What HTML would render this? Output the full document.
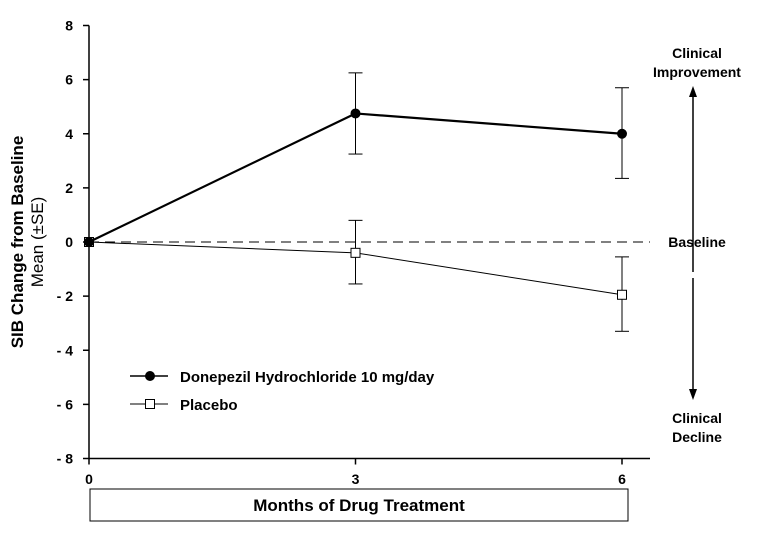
<!DOCTYPE html>
<html><head><meta charset="utf-8"><style>
html,body{margin:0;padding:0;background:#fff;}
svg{display:block;font-family:"Liberation Sans",Arial,sans-serif;}
</style></head><body>
<svg id="chart" width="762" height="534" viewBox="0 0 762 534" xmlns="http://www.w3.org/2000/svg">
<g id="axes"></g>
<g id="marks"></g>
<text transform="translate(23,242) rotate(-90)" text-anchor="middle" font-size="17" font-weight="bold">SIB Change from Baseline</text>
<text transform="translate(43,242) rotate(-90)" text-anchor="middle" font-size="17">Mean (±SE)</text>
<rect x="90" y="489" width="538" height="32" fill="#fff" stroke="#000" stroke-width="1"/>
<text x="359" y="511" text-anchor="middle" font-size="17" font-weight="bold">Months of Drug Treatment</text>
<g font-size="14" font-weight="bold" text-anchor="middle">
<text x="697" y="58">Clinical</text><text x="697" y="77">Improvement</text>
<text x="697" y="247">Baseline</text>
<text x="697" y="423">Clinical</text><text x="697" y="442">Decline</text>
<line x1="693" y1="272" x2="693" y2="96" stroke="#000" stroke-width="1.5"/>
<polygon points="693,86 689,97 697,97"/>
<line x1="693" y1="278" x2="693" y2="390" stroke="#000" stroke-width="1.5"/>
<polygon points="693,400 689,389 697,389"/>
</g>
<g font-size="15" font-weight="bold">
<g>
<line x1="130" y1="376" x2="168" y2="376" stroke="#000" stroke-width="1.5"/>
<circle cx="150" cy="376" r="5" fill="#000"/>
<text x="180" y="382">Donepezil Hydrochloride 10 mg/day</text></g>
<g>
<line x1="130" y1="404" x2="168" y2="404" stroke="#000" stroke-width="1"/>
<rect x="145.5" y="399.5" width="9" height="9" fill="#fff" stroke="#000"/>
<text x="180" y="410">Placebo</text></g>
</g>
</svg>
<script>
const months = [0, 3, 6];
const donepezil = [0, 4.75, 4.0];
const donepezilHi = [0, 6.25, 5.7];
const donepezilLo = [0, 3.25, 2.35];
const placebo = [0, -0.4, -1.95];
const placeboHi = [0, 0.8, -0.55];
const placeboLo = [0, -1.55, -3.3];
const yTicks = [8, 6, 4, 2, 0, -2, -4, -6, -8];
const yTickLabels = ["8", "6", "4", "2", "0", "- 2", "- 4", "- 6", "- 8"];
const xTicks = [0, 3, 6];

const NS = "http://www.w3.org/2000/svg";
const x = v => 89 + v * (622 - 89) / 6;
const y = v => 242 - v * (459 - 26) / 16;
function mk(tag, attrs, parent) {
  const e = document.createElementNS(NS, tag);
  for (const k in attrs) e.setAttribute(k, attrs[k]);
  parent.appendChild(e);
  return e;
}
const axes = document.getElementById('axes');
const marks = document.getElementById('marks');
let e;
e = mk('line', {x1: 89, y1: y(8), x2: 89, y2: y(-8), stroke: '#000', 'stroke-width': 1.5}, axes);


e = mk('line', {x1: 89, y1: y(-8), x2: 650, y2: y(-8), stroke: '#000', 'stroke-width': 1.5}, axes);


yTicks.forEach((t, i) => {
  e = mk('line', {x1: 83, y1: y(t), x2: 89, y2: y(t), stroke: '#000', 'stroke-width': 1.5}, axes);
  
  
  e = mk('text', {x: 73, y: y(t) + 5, 'text-anchor': 'end', 'font-size': 14, 'font-weight': 'bold'}, axes);
  e.textContent = yTickLabels[i];
  
  
});
xTicks.forEach(t => {
  e = mk('line', {x1: x(t), y1: y(-8), x2: x(t), y2: y(-8) + 6, stroke: '#000', 'stroke-width': 1.5}, axes);
  
  
  e = mk('text', {x: x(t), y: 484, 'text-anchor': 'middle', 'font-size': 14, 'font-weight': 'bold'}, axes);
  e.textContent = String(t);
  
  
});
e = mk('line', {x1: 89, y1: y(0), x2: 650, y2: y(0), stroke: '#000', 'stroke-width': 1, 'stroke-dasharray': '10,6'}, axes);



function errorBars(hi, lo, name) {
  months.forEach((m, i) => {
    if (hi[i] === lo[i]) return;
    const g = mk('g', {stroke: '#000', 'stroke-width': 1}, marks);
    
    
    mk('line', {x1: x(m), y1: y(hi[i]), x2: x(m), y2: y(lo[i])}, g);
    mk('line', {x1: x(m) - 7, y1: y(hi[i]), x2: x(m) + 7, y2: y(hi[i])}, g);
    mk('line', {x1: x(m) - 7, y1: y(lo[i]), x2: x(m) + 7, y2: y(lo[i])}, g);
  });
}
errorBars(placeboHi, placeboLo, 'placebo-error-bar');
errorBars(donepezilHi, donepezilLo, 'donepezil-error-bar');

e = mk('polyline', {points: months.map((m, i) => x(m) + ',' + y(placebo[i])).join(' '), fill: 'none', stroke: '#000', 'stroke-width': 1}, marks);


e = mk('polyline', {points: months.map((m, i) => x(m) + ',' + y(donepezil[i])).join(' '), fill: 'none', stroke: '#000', 'stroke-width': 2.2}, marks);


months.forEach((m, i) => {
  e = mk('rect', {x: x(m) - 4.5, y: y(placebo[i]) - 4.5, width: 9, height: 9, fill: '#fff', stroke: '#000'}, marks);
  
  
});
months.forEach((m, i) => {
  e = mk('circle', {cx: x(m), cy: y(donepezil[i]), r: 5, fill: '#000'}, marks);
  
  
});
</script>
</body></html>
